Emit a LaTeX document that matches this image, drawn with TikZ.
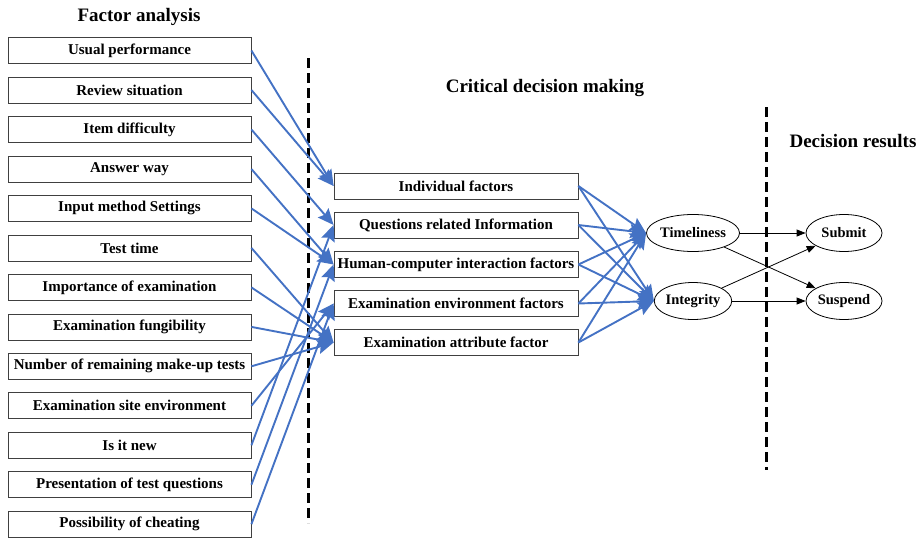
\documentclass[tikz,border=0pt]{standalone}
\usepackage{fontspec}
\setmainfont{Liberation Serif}
\usetikzlibrary{arrows.meta,shapes.geometric}
\definecolor{linkblue}{HTML}{4472C4}

\begin{document}
\begin{tikzpicture}[x=1pt,y=-1pt,
           factor_style/.style={rectangle,draw=black!75,line width=0.8pt,minimum width=243pt,minimum height=26pt,inner sep=0pt,font=\fontsize{15}{17}\selectfont\bfseries},
           group_style/.style={rectangle,draw=black!75,line width=0.8pt,minimum width=244pt,minimum height=26pt,inner sep=0pt,font=\fontsize{15}{17}\selectfont\bfseries},
           result_style/.style={ellipse,draw=black,line width=0.8pt,minimum width=76pt,minimum height=37pt,inner sep=0pt,font=\fontsize{14.5}{16}\selectfont\bfseries},
           title_style/.style={anchor=base,inner sep=0pt,font=\fontsize{19}{21}\selectfont\bfseries},
           edge_style/.style={draw=linkblue,line width=1.9pt,-{Stealth[length=16pt,width=14pt,inset=2.5pt]}},
           edge_style2/.style={draw=black,line width=0.8pt,-{Triangle[length=9pt,width=7pt]}},
           split_style/.style={draw=black,line width=3pt,dash pattern=on 10pt off 5pt}]
            \useasboundingbox (0,0) rectangle (923,538);
            % titles
            \node[title_style] (t0) at (139, 21)  {Factor analysis};
            \node[title_style] (t1) at (545, 92)  {Critical decision making};
            \node[title_style] (t2) at (853, 147) {Decision results};
            % factors
            \node[factor_style] (f0) at (129.5, 50.5)  {Usual performance};
            \node[factor_style] (f1) at (129.5, 90)    {Review situation};
            \node[factor_style] (f2) at (129.5, 129.5) {Item difficulty};
            \node[factor_style] (f3) at (129.5, 169)   {Answer way};
            \node[factor_style] (f4) at (129.5, 208.4) {Input method Settings};
            \node[factor_style] (f5) at (129.5, 247.9) {Test time};
            \node[factor_style] (f6) at (129.5, 287.4) {Importance of examination};
            \node[factor_style] (f7) at (129.5, 326.9) {Examination fungibility};
            \node[factor_style] (f8) at (129.5, 366.3) {Number of remaining make-up tests};
            \node[factor_style] (f9) at (129.5, 405.8) {Examination site environment};
            \node[factor_style] (f10) at (129.5, 445.3) {Is it new};
            \node[factor_style] (f11) at (129.5, 484.8) {Presentation of test questions};
            \node[factor_style] (f12) at (129.5, 524.2) {Possibility of cheating};
            % groups
            \node[group_style] (m0) at (456, 186)   {Individual factors};
            \node[group_style] (m1) at (456, 225)   {Questions related Information};
            \node[group_style] (m2) at (456, 264.5) {Human-computer interaction factors};
            \node[group_style] (m3) at (456, 303.5) {Examination environment factors};
            \node[group_style] (m4) at (456, 342.5) {Examination attribute factor};
            % decisions
            \node[result_style] (e0) at (693, 233) {Timeliness};
            \node[result_style] (e1) at (693, 301) {Integrity};
            \node[result_style] (r0) at (844, 233) {Submit};
            \node[result_style] (r1) at (844, 301) {Suspend};
            % separators
            \coordinate (s0) at (308, 58);
            \coordinate (s1) at (308, 523);
            \coordinate (s2) at (766, 107);
            \coordinate (s3) at (766, 470);
            \draw[split_style] (s0) -- (s1);
            \draw[split_style] (s2) -- (s3);
            % factors to groups
            \draw[edge_style]  (f0.east) -- (m0.west);
            \draw[edge_style]  (f1.east) -- (m0.west);
            \draw[edge_style]  (f2.east) -- (m1.west);
            \draw[edge_style]  (f3.east) -- (m2.west);
            \draw[edge_style]  (f4.east) -- (m2.west);
            \draw[edge_style]  (f5.east) -- (m4.west);
            \draw[edge_style]  (f6.east) -- (m4.west);
            \draw[edge_style]  (f7.east) -- (m4.west);
            \draw[edge_style]  (f8.east) -- (m4.west);
            \draw[edge_style]  (f9.east) -- (m3.west);
            \draw[edge_style]  (f10.east) -- (m1.west);
            \draw[edge_style]  (f11.east) -- (m2.west);
            \draw[edge_style]  (f12.east) -- (m3.west);
            % groups to decisions
            \draw[edge_style]  (m0.east) -- (e0.west);
            \draw[edge_style]  (m0.east) -- (e1.west);
            \draw[edge_style]  (m1.east) -- (e0.west);
            \draw[edge_style]  (m1.east) -- (e1.west);
            \draw[edge_style]  (m2.east) -- (e0.west);
            \draw[edge_style]  (m2.east) -- (e1.west);
            \draw[edge_style]  (m3.east) -- (e0.west);
            \draw[edge_style]  (m3.east) -- (e1.west);
            \draw[edge_style]  (m4.east) -- (e0.west);
            \draw[edge_style]  (m4.east) -- (e1.west);
            % decisions to results
            \draw[edge_style2] (e0) -- (r0);
            \draw[edge_style2] (e0) -- (r1);
            \draw[edge_style2] (e1) -- (r0);
            \draw[edge_style2] (e1) -- (r1);
        \end{tikzpicture}
\end{document}
